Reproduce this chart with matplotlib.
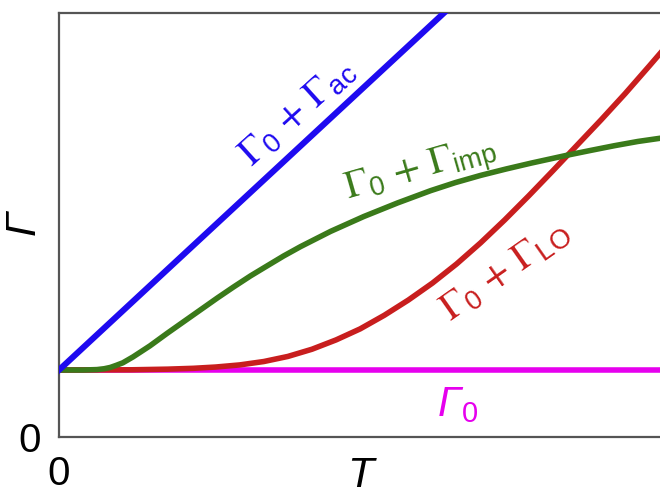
import matplotlib
matplotlib.use("Agg")
import matplotlib.pyplot as plt

plt.rcParams['font.family'] = ['Liberation Sans', 'DejaVu Sans']
plt.rcParams['mathtext.fontset'] = 'custom'
plt.rcParams['mathtext.rm'] = 'Liberation Sans:italic'
plt.rcParams['mathtext.it'] = 'Liberation Sans:italic'
plt.rcParams['mathtext.sf'] = 'Liberation Sans'

# Data (arbitrary units)
gamma0 = 1.58
T_ac = [0.0, 6.39]
G_ac = [1.58, 10.0]

T_imp = [0.0, 0.40, 0.63, 0.75, 0.85, 0.95, 1.06, 1.23, 1.51, 1.80, 2.06, 2.35,
         2.63, 2.90, 3.18, 3.46, 3.73, 4.01, 4.51, 5.06, 5.62, 6.17, 6.58, 7.00,
         7.42, 7.84, 8.45, 8.83, 9.22, 9.61, 10.0]
G_imp = [1.58, 1.58, 1.59, 1.61, 1.64, 1.69, 1.75, 1.89, 2.15, 2.45, 2.71, 3.00,
         3.28, 3.54, 3.80, 4.04, 4.27, 4.49, 4.85, 5.20, 5.52, 5.81, 6.00, 6.17,
         6.32, 6.46, 6.65, 6.76, 6.87, 6.97, 7.05]

T_lo = [0.0, 1.2, 1.8, 2.23, 2.6, 3.0, 3.4, 3.8, 4.2, 4.6, 5.0, 5.4, 5.8, 6.2,
        6.6, 7.0, 7.4, 7.8, 8.2, 8.6, 9.0, 9.4, 9.8, 10.0]
G_lo = [1.58, 1.585, 1.60, 1.62, 1.65, 1.70, 1.78, 1.90, 2.07, 2.29, 2.55, 2.87,
        3.23, 3.63, 4.08, 4.58, 5.12, 5.69, 6.28, 6.88, 7.48, 8.10, 8.75, 9.08]

T_range = [0.0, 10.5]

fig = plt.figure(figsize=(6.6, 4.95), dpi=100)
ax = fig.add_axes([59/660, 58/495, 601/660 + 0.002, 424/495])
ax.set_xlim(0, 10)
ax.set_ylim(0, 10)

lw = 4.0
ax.plot(T_range, [gamma0, gamma0], color='#e600ee', lw=lw, solid_capstyle='butt', zorder=2)
ax.plot(T_lo, G_lo, color='#c81e1e', lw=lw, zorder=3)
ax.plot(T_imp, G_imp, color='#3a7a1a', lw=lw, zorder=4)
ax.plot(T_ac, G_ac, color='#1e0af0', lw=lw + 0.4, zorder=5)

for s in ['left', 'bottom', 'top']:
    ax.spines[s].set_color('#555555')
    ax.spines[s].set_linewidth(1.6)
ax.spines['right'].set_visible(False)

ax.set_xticks([0])
ax.set_yticks([0])
ax.set_xticklabels(['0'], fontsize=29)
ax.set_yticklabels(['0'], fontsize=29)
ax.tick_params(axis='y', length=0, pad=13)
ax.tick_params(axis='x', length=0, pad=13)

ax.set_xlabel(r'$T$', fontsize=31, va='center', math_fontfamily='custom')
ax.xaxis.set_label_coords(0.504, -0.092)
ax.set_ylabel(r'$\Gamma$', fontsize=31, va='center', math_fontfamily='custom')
ax.yaxis.set_label_coords(-0.057, 0.505)

def place(px, py, s, color, rot, fs=28, mf='stix'):
    fig.text(px/660, 1 - py/495, s, color=color, rotation=rot, fontsize=fs,
             ha='center', va='center', rotation_mode='anchor', math_fontfamily=mf)

place(298, 113, r'$\Gamma_{\mathregular{0}}\,+\,\Gamma_{\mathregular{ac}}$', '#1e0af0', 42)
place(421, 171, r'$\Gamma_{\mathregular{0}}\,+\,\Gamma_{\mathregular{imp}}$', '#3a7a1a', 16)
place(506, 272, r'$\Gamma_{\mathregular{0}}\,+\,\Gamma_{\mathregular{LO}}$', '#c81e1e', 35)
place(458, 405, r'$\Gamma_{\mathsf{0}}$', '#e600ee', 0, fs=30, mf='custom')

fig.savefig('out.png', dpi=100)
